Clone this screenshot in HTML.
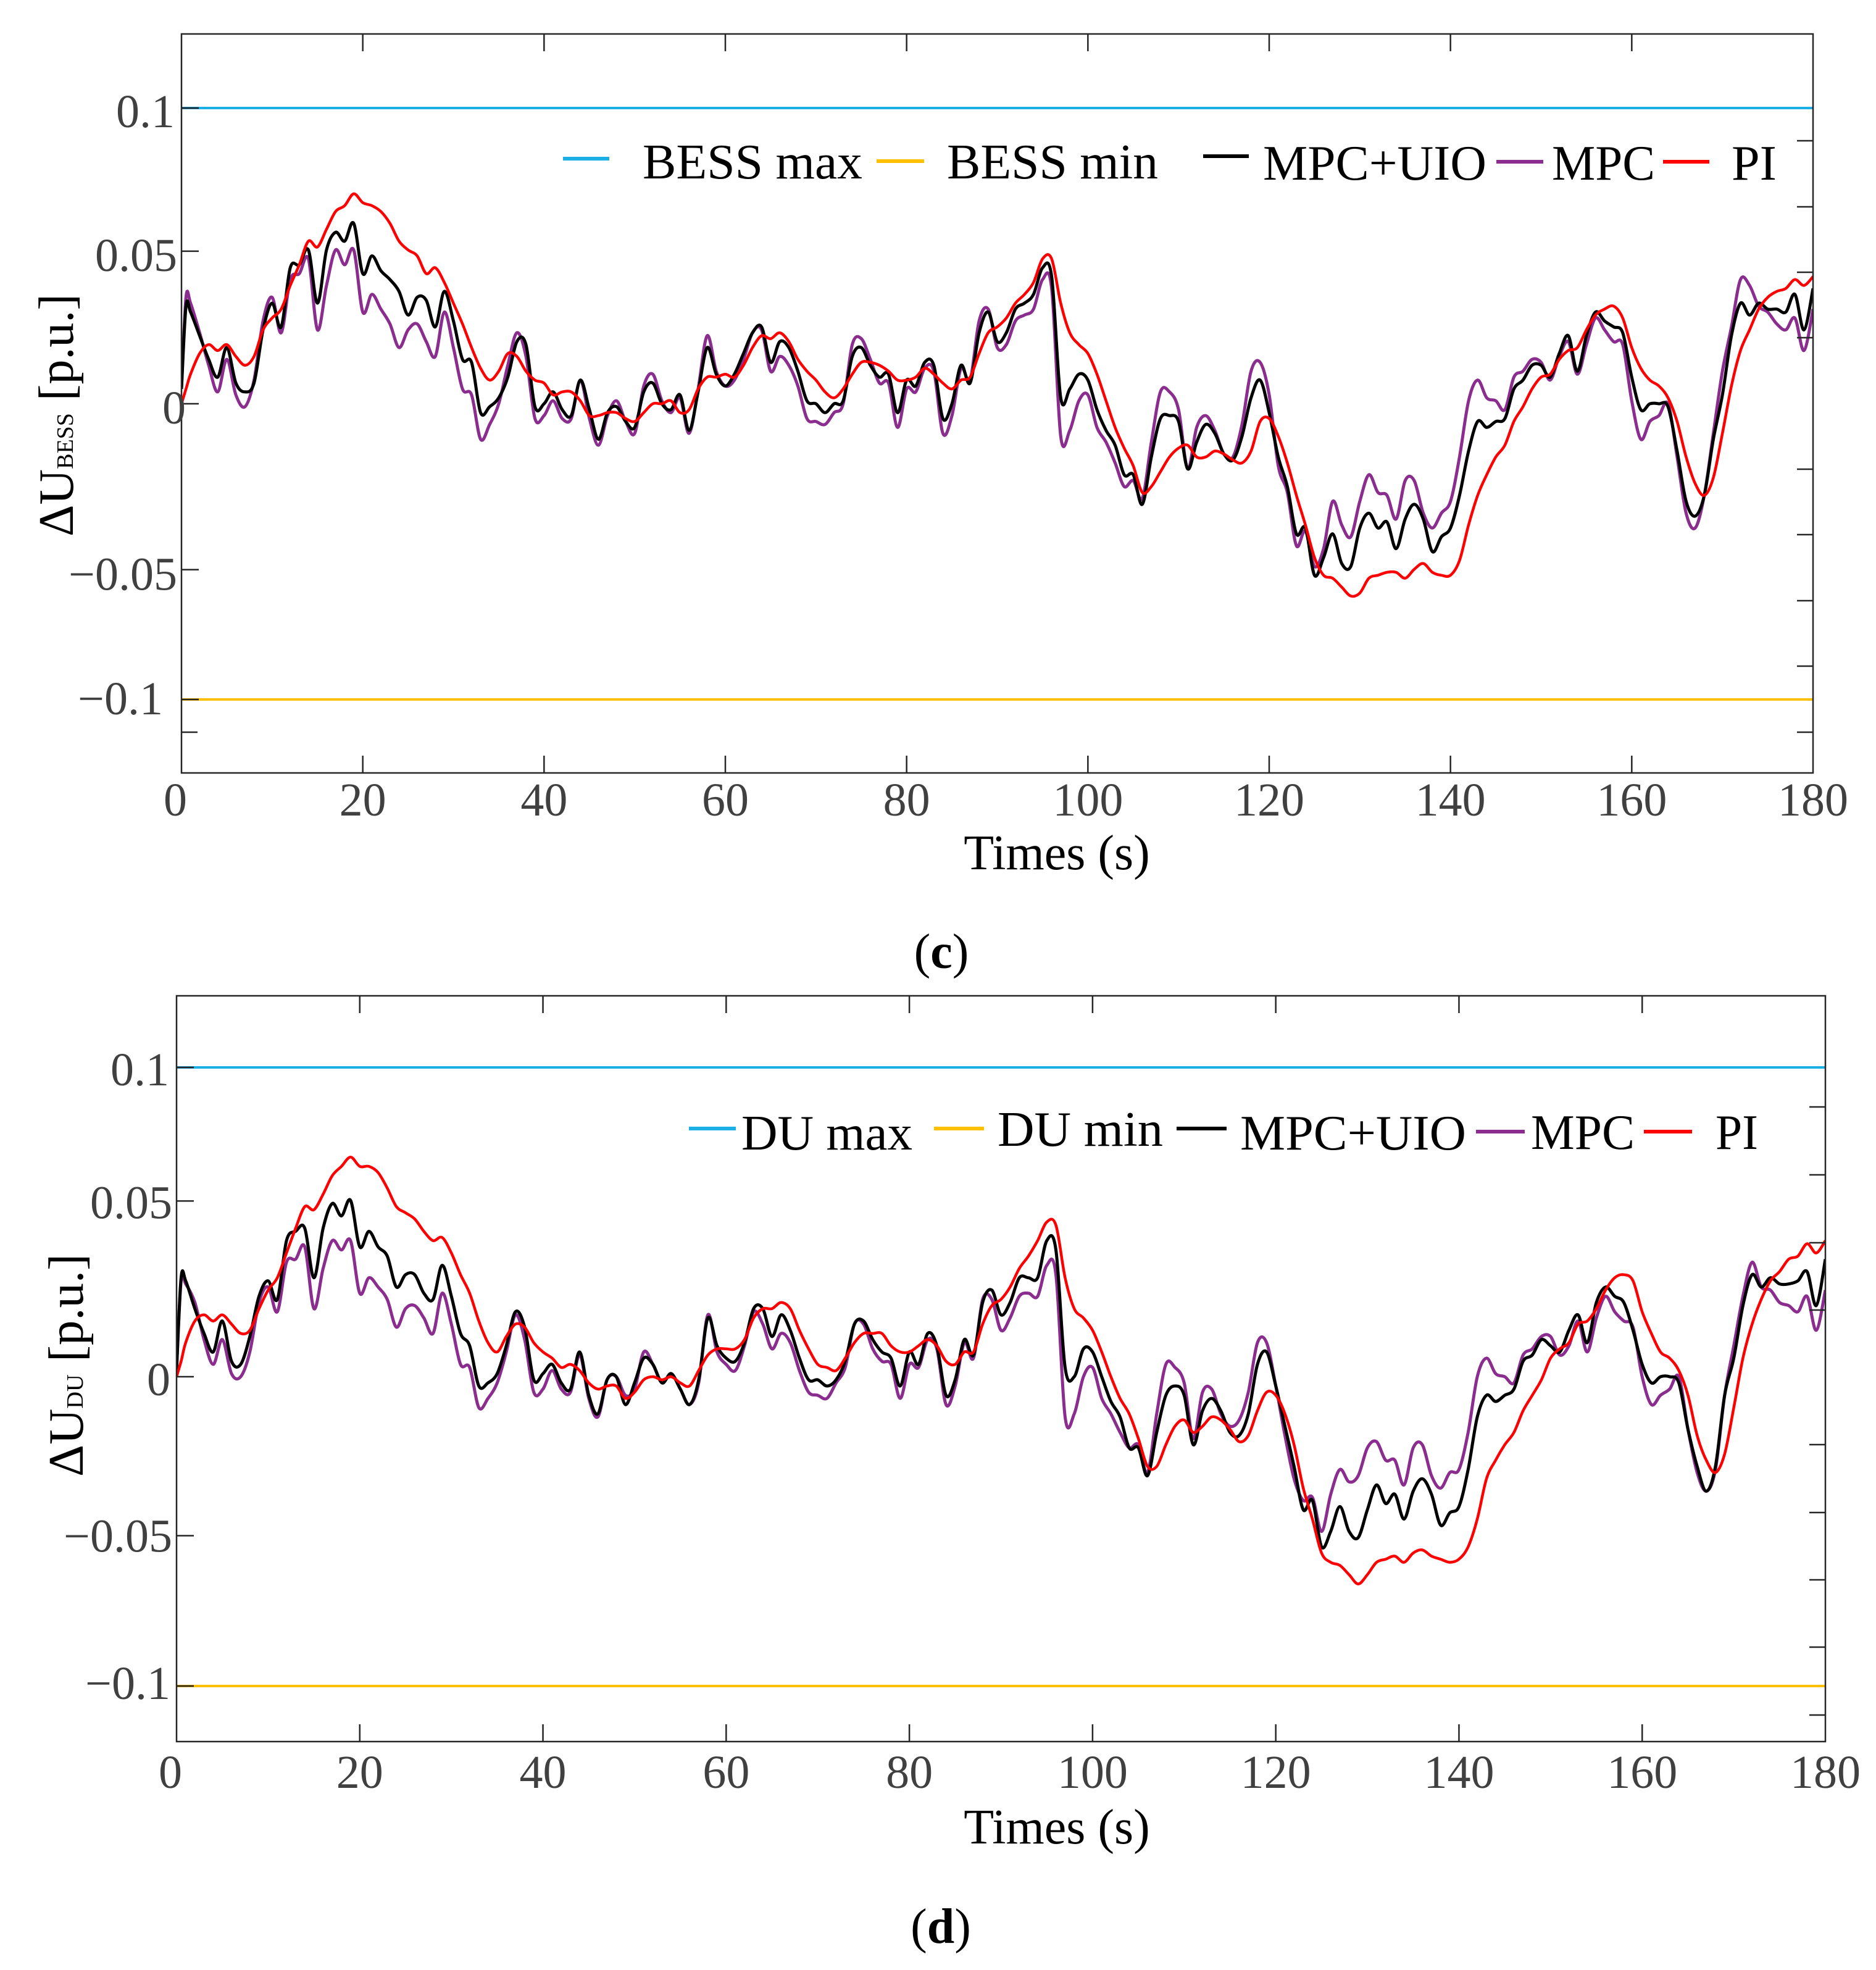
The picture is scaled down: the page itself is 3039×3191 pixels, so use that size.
<!DOCTYPE html>
<html><head><meta charset="utf-8"><style>
html,body{margin:0;padding:0;background:#fff;}
svg{display:block;}
text{font-family:"Liberation Serif","Times New Roman",serif;}
</style></head><body>
<svg id="fig" width="3039" height="3191" viewBox="0 0 3039 3191" xmlns="http://www.w3.org/2000/svg"></svg>
<script>
// ---- data ----
const timeSteps = [0, 0.5];
for (let t = 1; t <= 180; t++) timeSteps.push(t);

const topUio = [0.005,0.033,
0.031,0.023,0.015,0.009,0.019,0.007,0.004,0.007,0.025,0.034,
0.026,0.046,0.047,0.052,0.034,0.052,0.058,0.055,0.061,0.044,
0.050,0.045,0.042,0.038,0.030,0.036,0.035,0.026,0.038,0.028,
0.015,0.014,-0.003,-0.001,0.002,0.009,0.021,0.020,-0.001,0.000,
0.004,-0.002,-0.004,0.008,-0.002,-0.012,-0.003,-0.001,-0.006,-0.008,
0.004,0.007,0.000,-0.002,0.003,-0.009,0.004,0.019,0.010,0.006,
0.010,0.017,0.024,0.026,0.014,0.021,0.019,0.011,0.001,0.000,
-0.003,0.000,0.001,0.016,0.019,0.013,0.009,0.010,-0.003,0.008,
0.006,0.014,0.013,-0.005,0.000,0.013,0.007,0.024,0.031,0.021,
0.024,0.032,0.034,0.037,0.046,0.043,0.002,0.005,0.010,0.008,
-0.002,-0.009,-0.014,-0.024,-0.024,-0.034,-0.018,-0.005,-0.004,-0.006,
-0.022,-0.013,-0.007,-0.010,-0.017,-0.019,-0.011,0.002,0.008,-0.003,
-0.018,-0.028,-0.044,-0.042,-0.058,-0.052,-0.044,-0.054,-0.055,-0.042,
-0.037,-0.042,-0.040,-0.049,-0.039,-0.034,-0.039,-0.050,-0.045,-0.042,
-0.031,-0.016,-0.006,-0.008,-0.006,-0.005,0.005,0.008,0.013,0.013,
0.009,0.017,0.023,0.011,0.023,0.031,0.028,0.026,0.024,0.009,
-0.002,0.000,0.000,-0.001,-0.016,-0.033,-0.038,-0.031,-0.012,0.003,
0.023,0.034,0.030,0.034,0.032,0.032,0.031,0.037,0.025,0.039];

const topMpc = [0.005,0.036,
0.034,0.024,0.013,0.004,0.015,0.003,-0.001,0.008,0.028,0.036,
0.024,0.042,0.044,0.049,0.025,0.040,0.052,0.047,0.052,0.031,
0.037,0.032,0.027,0.019,0.025,0.027,0.021,0.016,0.031,0.019,
0.005,0.003,-0.012,-0.007,0.000,0.013,0.024,0.016,-0.005,-0.004,
0.001,-0.005,-0.005,0.008,-0.005,-0.014,-0.004,0.001,-0.006,-0.010,
0.006,0.010,0.001,-0.003,0.002,-0.010,0.005,0.023,0.011,0.006,
0.008,0.015,0.024,0.025,0.011,0.016,0.013,0.006,-0.005,-0.006,
-0.007,-0.003,0.000,0.020,0.022,0.015,0.007,0.007,-0.008,0.005,
0.004,0.012,0.011,-0.010,-0.004,0.012,0.008,0.028,0.032,0.019,
0.020,0.028,0.030,0.032,0.042,0.039,-0.011,-0.009,0.001,0.003,
-0.008,-0.013,-0.020,-0.028,-0.026,-0.032,-0.013,0.004,0.004,-0.002,
-0.022,-0.008,-0.004,-0.009,-0.017,-0.018,-0.007,0.011,0.014,0.003,
-0.021,-0.030,-0.048,-0.043,-0.055,-0.049,-0.033,-0.041,-0.045,-0.033,
-0.024,-0.030,-0.031,-0.039,-0.026,-0.026,-0.037,-0.042,-0.037,-0.033,
-0.018,0.001,0.008,0.002,0.001,-0.002,0.009,0.011,0.015,0.014,
0.008,0.016,0.021,0.010,0.020,0.029,0.025,0.021,0.020,0.001,
-0.012,-0.006,-0.004,0.000,-0.018,-0.037,-0.042,-0.031,-0.010,0.011,
0.026,0.042,0.040,0.033,0.031,0.027,0.025,0.029,0.018,0.032];

const topPi = [0.000,0.005,
0.010,0.017,0.020,0.018,0.020,0.016,0.013,0.016,0.025,0.029,
0.032,0.040,0.047,0.055,0.053,0.059,0.065,0.067,0.071,0.068,
0.067,0.065,0.061,0.055,0.052,0.050,0.044,0.046,0.041,0.034,
0.027,0.019,0.012,0.008,0.011,0.017,0.016,0.011,0.008,0.007,
0.003,0.004,0.004,0.001,-0.004,-0.004,-0.003,-0.003,-0.005,-0.006,
-0.003,0.000,0.000,0.001,-0.003,-0.002,0.005,0.009,0.009,0.010,
0.009,0.013,0.019,0.023,0.022,0.024,0.021,0.015,0.011,0.008,
0.004,0.002,0.005,0.010,0.014,0.014,0.013,0.011,0.008,0.008,
0.009,0.012,0.010,0.007,0.005,0.008,0.009,0.017,0.024,0.026,
0.029,0.034,0.037,0.041,0.049,0.049,0.034,0.024,0.020,0.017,
0.010,0.001,-0.008,-0.015,-0.021,-0.030,-0.028,-0.023,-0.018,-0.015,
-0.014,-0.018,-0.018,-0.016,-0.017,-0.019,-0.020,-0.016,-0.006,-0.005,
-0.011,-0.020,-0.031,-0.041,-0.052,-0.058,-0.059,-0.062,-0.065,-0.064,
-0.059,-0.058,-0.057,-0.057,-0.059,-0.056,-0.054,-0.057,-0.058,-0.058,
-0.053,-0.041,-0.031,-0.024,-0.018,-0.014,-0.006,-0.001,0.005,0.009,
0.010,0.015,0.018,0.019,0.025,0.030,0.032,0.033,0.029,0.019,
0.012,0.008,0.006,0.002,-0.006,-0.018,-0.027,-0.031,-0.025,-0.010,
0.006,0.018,0.025,0.032,0.036,0.038,0.039,0.042,0.040,0.043];

const botUio = [0.002,0.032,
0.031,0.022,0.014,0.008,0.018,0.005,0.004,0.013,0.026,0.031,
0.025,0.044,0.047,0.048,0.032,0.048,0.056,0.052,0.057,0.042,
0.047,0.042,0.039,0.029,0.033,0.033,0.027,0.025,0.036,0.026,
0.014,0.010,-0.003,-0.002,0.001,0.010,0.021,0.016,-0.001,0.001,
0.004,-0.002,-0.004,0.008,-0.006,-0.012,-0.001,0.000,-0.009,-0.002,
0.006,0.004,-0.002,0.001,-0.004,-0.009,-0.001,0.019,0.010,0.006,
0.005,0.011,0.022,0.022,0.013,0.020,0.015,0.006,-0.001,-0.001,
-0.003,-0.001,0.005,0.017,0.018,0.012,0.008,0.006,-0.003,0.008,
0.004,0.014,0.010,-0.006,-0.001,0.012,0.007,0.024,0.028,0.020,
0.024,0.032,0.032,0.032,0.044,0.041,0.003,0.000,0.009,0.008,
0.000,-0.008,-0.013,-0.023,-0.023,-0.032,-0.018,-0.006,-0.003,-0.006,
-0.022,-0.011,-0.007,-0.011,-0.018,-0.019,-0.012,0.004,0.008,-0.003,
-0.016,-0.029,-0.043,-0.040,-0.055,-0.050,-0.042,-0.050,-0.052,-0.043,
-0.035,-0.041,-0.038,-0.046,-0.037,-0.033,-0.038,-0.048,-0.044,-0.042,
-0.030,-0.013,-0.006,-0.008,-0.006,-0.004,0.005,0.007,0.012,0.010,
0.008,0.015,0.020,0.011,0.024,0.029,0.026,0.024,0.015,0.004,
-0.002,0.000,0.000,-0.002,-0.017,-0.029,-0.037,-0.029,-0.006,0.006,
0.023,0.033,0.029,0.032,0.030,0.030,0.031,0.034,0.023,0.038];

const botMpc = [0.002,0.031,
0.030,0.024,0.012,0.004,0.012,0.001,0.000,0.008,0.024,0.029,
0.021,0.037,0.038,0.042,0.022,0.035,0.044,0.041,0.044,0.027,
0.032,0.029,0.025,0.016,0.022,0.023,0.019,0.014,0.027,0.017,
0.004,0.003,-0.010,-0.007,-0.002,0.008,0.020,0.012,-0.005,-0.004,
0.002,-0.004,-0.005,0.007,-0.007,-0.013,-0.001,0.000,-0.006,-0.004,
0.008,0.004,-0.002,0.001,-0.004,-0.009,-0.002,0.020,0.008,0.004,
0.002,0.010,0.021,0.017,0.009,0.014,0.011,0.002,-0.005,-0.006,
-0.007,-0.002,0.003,0.017,0.017,0.009,0.005,0.004,-0.007,0.004,
0.003,0.012,0.009,-0.009,-0.003,0.011,0.006,0.025,0.025,0.015,
0.019,0.026,0.027,0.026,0.036,0.033,-0.013,-0.012,0.000,0.003,
-0.007,-0.012,-0.018,-0.023,-0.022,-0.031,-0.012,0.004,0.003,-0.002,
-0.020,-0.005,-0.004,-0.012,-0.016,-0.014,-0.005,0.011,0.011,-0.003,
-0.019,-0.033,-0.040,-0.039,-0.050,-0.038,-0.030,-0.034,-0.032,-0.023,
-0.021,-0.027,-0.027,-0.035,-0.023,-0.022,-0.032,-0.036,-0.031,-0.030,
-0.018,0.000,0.006,0.001,0.000,-0.002,0.007,0.009,0.013,0.013,
0.007,0.010,0.018,0.008,0.019,0.026,0.021,0.018,0.016,0.000,
-0.009,-0.006,-0.004,0.000,-0.017,-0.031,-0.037,-0.030,-0.006,0.010,
0.026,0.037,0.029,0.028,0.024,0.023,0.021,0.026,0.015,0.028];

const botPi = [0.000,0.005,
0.011,0.018,0.020,0.018,0.020,0.017,0.014,0.015,0.022,0.028,
0.032,0.040,0.048,0.055,0.054,0.059,0.065,0.068,0.071,0.068,
0.068,0.066,0.061,0.055,0.053,0.051,0.047,0.044,0.045,0.040,
0.033,0.027,0.018,0.011,0.008,0.013,0.017,0.016,0.011,0.008,
0.006,0.003,0.004,0.002,-0.002,-0.004,-0.003,-0.003,-0.007,-0.005,
-0.001,0.000,-0.001,0.000,-0.002,-0.003,0.002,0.007,0.009,0.009,
0.009,0.012,0.019,0.022,0.022,0.024,0.022,0.015,0.009,0.004,
0.003,0.002,0.006,0.011,0.014,0.014,0.014,0.010,0.008,0.008,
0.010,0.012,0.010,0.005,0.004,0.008,0.008,0.017,0.023,0.025,
0.029,0.035,0.039,0.044,0.050,0.049,0.032,0.022,0.019,0.015,
0.008,0.000,-0.007,-0.012,-0.020,-0.029,-0.029,-0.022,-0.016,-0.014,
-0.018,-0.016,-0.013,-0.014,-0.017,-0.021,-0.019,-0.011,-0.005,-0.006,
-0.012,-0.022,-0.036,-0.046,-0.057,-0.060,-0.061,-0.064,-0.067,-0.064,
-0.060,-0.059,-0.058,-0.060,-0.057,-0.056,-0.058,-0.059,-0.060,-0.059,
-0.055,-0.046,-0.033,-0.027,-0.022,-0.018,-0.011,-0.006,-0.001,0.006,
0.009,0.011,0.017,0.018,0.022,0.028,0.032,0.033,0.031,0.021,
0.014,0.008,0.006,0.002,-0.006,-0.019,-0.027,-0.031,-0.025,-0.010,
0.006,0.017,0.025,0.031,0.034,0.038,0.039,0.043,0.040,0.044];

const limitMax = 0.1;
const limitMin = -0.1;
const xTickValues = [0,20,40,60,80,100,120,140,160,180];
const xTickLabels = ["0","20","40","60","80","100","120","140","160","180"];
const yTickLabels = ["0.1","0.05","0","\u22120.05","\u22120.1"];
const topYTickValues = [0.1, 0.0516, 0, -0.0561, -0.1];
const botYTickValues = [0.1, 0.0568, 0, -0.0514, -0.1];

// ---- rendering ----
const NS = "http://www.w3.org/2000/svg";
const svg = document.getElementById("fig");
function mk(tag, attrs, parent) {
  const e = document.createElementNS(NS, tag);
  for (const k in attrs) e.setAttribute(k, attrs[k]);
  (parent || svg).appendChild(e);
  return e;
}

function smoothPath(xs, ys) {
  let d = "M" + xs[0].toFixed(1) + "," + ys[0].toFixed(1);
  const n = xs.length;
  for (let i = 0; i < n - 1; i++) {
    const x0 = xs[Math.max(0, i - 1)], y0 = ys[Math.max(0, i - 1)];
    const x1 = xs[i], y1 = ys[i], x2 = xs[i + 1], y2 = ys[i + 1];
    const x3 = xs[Math.min(n - 1, i + 2)], y3 = ys[Math.min(n - 1, i + 2)];
    const c1x = x1 + (x2 - x0) / 6, c1y = y1 + (y2 - y0) / 6;
    const c2x = x2 - (x3 - x1) / 6, c2y = y2 - (y3 - y1) / 6;
    d += "C" + c1x.toFixed(1) + "," + c1y.toFixed(1) + " " + c2x.toFixed(1) + "," + c2y.toFixed(1) + " " + x2.toFixed(1) + "," + y2.toFixed(1);
  }
  return d;
}

function drawChart(cfg) {
  const g = mk("g", {});
  
  
  const L = cfg.left, R = cfg.right, T = cfg.top, B = cfg.bottom;
  const xScale = v => L + (v - 0) / 180 * (R - L);
  const yScale = v => cfg.y0 - v / 0.1 * cfg.per01;

  const clipId = cfg.name + "-clip";
  const defs = mk("defs", {}, g);
  const cp = mk("clipPath", {id: clipId}, defs);
  mk("rect", {x: L, y: T, width: R - L, height: B - T}, cp);

  const lmax = mk("line", {x1: L, x2: R, y1: yScale(limitMax), y2: yScale(limitMax), stroke: "#1BAFE6", "stroke-width": 4}, g);
  
  
  const lmin = mk("line", {x1: L, x2: R, y1: yScale(limitMin), y2: yScale(limitMin), stroke: "#FFC000", "stroke-width": 4}, g);
  
  

  const series = [
    {vals: cfg.uio, color: "#000000", w: 5, name: "mpc-uio-line"},
    {vals: cfg.mpc, color: "#8A2D8E", w: 5, name: "mpc-line"},
    {vals: cfg.pi, color: "#FF0000", w: 4.5, name: "pi-line"}
  ];
  const order = [1, 0, 2];
  for (const k of order) {
    const s = series[k];
    const n = Math.min(s.vals.length, timeSteps.length);
    const xs = [], ys = [];
    for (let i = 0; i < n; i++) { xs.push(xScale(timeSteps[i])); ys.push(yScale(s.vals[i])); }
    const p = mk("path", {d: smoothPath(xs, ys), fill: "none", stroke: s.color, "stroke-width": s.w, "stroke-linejoin": "round", "clip-path": "url(#" + clipId + ")"}, g);
    
    
  }

  const box = mk("rect", {x: L, y: T, width: R - L, height: B - T, fill: "none", stroke: "#262626", "stroke-width": 2.5}, g);
  
  

  for (let i = 0; i < xTickValues.length; i++) {
    const x = xScale(xTickValues[i]);
    if (i > 0 && i < xTickValues.length - 1) {
      mk("line", {x1: x, x2: x, y1: T, y2: T + 28, stroke: "#262626", "stroke-width": 2.5}, g);
      mk("line", {x1: x, x2: x, y1: B, y2: B - 28, stroke: "#262626", "stroke-width": 2.5}, g);
    }
    const t = mk("text", {x: i === 0 ? x - 10 : x, y: cfg.xLabelBase, "text-anchor": "middle", "font-size": 76, fill: "#404040"}, g);
    t.textContent = xTickLabels[i];
    
    
  }
  for (let i = 0; i < cfg.yTicks.length; i++) {
    const y = yScale(cfg.yTicks[i]);
    mk("line", {x1: L, x2: L + 28, y1: y, y2: y, stroke: "#262626", "stroke-width": 2.5}, g);
    const t = mk("text", {x: cfg.yLabelRight[i], y: y + cfg.yLabelOff[i], "text-anchor": "end", "font-size": 76, fill: "#404040"}, g);
    t.textContent = yTickLabels[i];
    
    
  }
  for (const y of cfg.rightTicks) {
    mk("line", {x1: R, x2: R - 26, y1: y, y2: y, stroke: "#262626", "stroke-width": 2.5}, g);
  }
  for (const y of cfg.leftExtraTicks) {
    mk("line", {x1: L, x2: L + 26, y1: y, y2: y, stroke: "#262626", "stroke-width": 2.5}, g);
  }

  const xt = mk("text", {x: cfg.xTitleX, y: cfg.xTitleBase, "text-anchor": "middle", "font-size": 80, fill: "#000"}, g);
  xt.textContent = "Times (s)";
  
  

  const yt = mk("text", {transform: "translate(" + cfg.yTitleX + "," + cfg.yTitleY0 + ") rotate(-90)", "font-size": 80, fill: "#000", textLength: cfg.yTitleLen, lengthAdjust: "spacingAndGlyphs"}, g);
  
  
  const a = mk("tspan", {}, yt); a.textContent = "\u0394U";
  const b = mk("tspan", {"font-size": 38}, yt); b.textContent = cfg.sub;
  const c = mk("tspan", {}, yt); c.textContent = " [p.u.]";

  const cap = mk("text", {x: cfg.capX, y: cfg.capBase, "text-anchor": "middle", "font-size": 80, fill: "#000"}, g);
  
  
  const c1 = mk("tspan", {}, cap); c1.textContent = "(";
  const c2 = mk("tspan", {"font-weight": "bold"}, cap); c2.textContent = cfg.capLetter;
  const c3 = mk("tspan", {}, cap); c3.textContent = ")";

  const lg = mk("g", {}, g);
  
  
  const colors = ["#1BAFE6", "#FFC000", "#000000", "#8A2D8E", "#FF0000"];
  for (let i = 0; i < cfg.legend.length; i++) {
    const it = cfg.legend[i];
    const ln = mk("line", {x1: it.l1, x2: it.l2, y1: it.ly, y2: it.ly, stroke: colors[i], "stroke-width": 6}, lg);
    
    
    const tx = mk("text", {x: it.tx, y: it.tb, "font-size": 80, fill: "#000", textLength: it.tw, lengthAdjust: "spacingAndGlyphs"}, lg);
    tx.textContent = it.label;
    
    
  }
}

drawChart({
  name: "chart-bess", left: 294, right: 2937, top: 55, bottom: 1252, y0: 654, per01: 479,
  uio: topUio, mpc: topMpc, pi: topPi, yTicks: topYTickValues,
  yLabelRight: [283, 287, 301, 287, 264], yLabelOff: [31, 32, 32, 33, 24],
  rightTicks: [228, 335, 441, 547, 760, 866, 973, 1079, 1186],
  leftExtraTicks: [1186],
  xLabelBase: 1321, xTitleX: 1712, xTitleBase: 1408,
  yTitleX: 118, yTitleY0: 869, yTitleLen: 393, sub: "BESS",
  capX: 1525, capBase: 1568, capLetter: "c",
  legend: [
    {l1: 912, l2: 987, ly: 257, tx: 1041, tb: 289, tw: 356, label: "BESS max"},
    {l1: 1420, l2: 1497, ly: 261, tx: 1534, tb: 289, tw: 342, label: "BESS min"},
    {l1: 1949, l2: 2023, ly: 253, tx: 2046, tb: 291, tw: 362, label: "MPC+UIO"},
    {l1: 2424, l2: 2500, ly: 262, tx: 2514, tb: 291, tw: 167, label: "MPC"},
    {l1: 2694, l2: 2769, ly: 262, tx: 2805, tb: 291, tw: 73, label: "PI"}
  ]
});

drawChart({
  name: "chart-du", left: 286, right: 2957, top: 1613, bottom: 2821, y0: 2230, per01: 501,
  uio: botUio, mpc: botMpc, pi: botPi, yTicks: botYTickValues,
  yLabelRight: [274, 279, 276, 279, 276], yLabelOff: [29, 28, 30, 26, 21],
  rightTicks: [1793, 1903, 2013, 2122, 2340, 2450, 2559, 2668, 2778],
  leftExtraTicks: [],
  xLabelBase: 2896, xTitleX: 1712, xTitleBase: 2986,
  yTitleX: 134, yTitleY0: 2392, yTitleLen: 361, sub: "DU",
  capX: 1524, capBase: 3147, capLetter: "d",
  legend: [
    {l1: 1116, l2: 1192, ly: 1828, tx: 1201, tb: 1862, tw: 277, label: "DU max"},
    {l1: 1513, l2: 1594, ly: 1828, tx: 1616, tb: 1856, tw: 268, label: "DU min"},
    {l1: 1906, l2: 1987, ly: 1828, tx: 2009, tb: 1862, tw: 366, label: "MPC+UIO"},
    {l1: 2391, l2: 2470, ly: 1833, tx: 2480, tb: 1861, tw: 168, label: "MPC"},
    {l1: 2663, l2: 2741, ly: 1833, tx: 2779, tb: 1861, tw: 69, label: "PI"}
  ]
});
</script>
</body></html>
